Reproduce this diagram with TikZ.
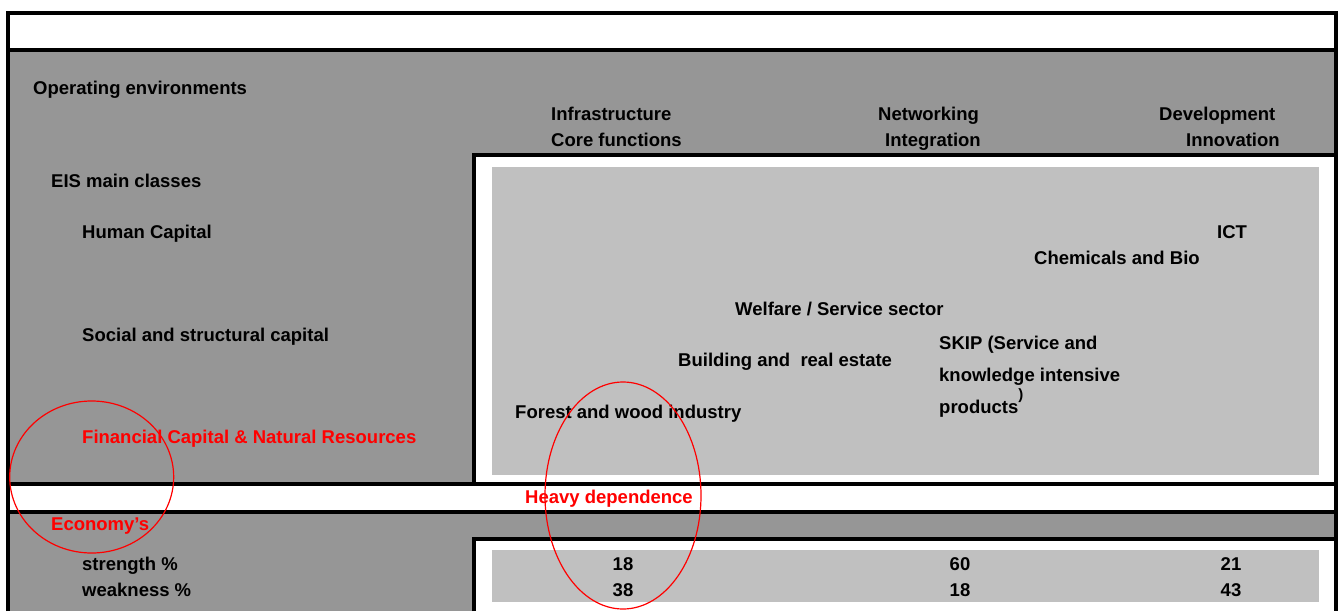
\documentclass[tikz,border=0pt]{standalone}
\usepackage{fontspec}
\setmainfont{Liberation Sans}
\definecolor{dg}{RGB}{150,150,150}
\definecolor{lg}{RGB}{192,192,192}
\begin{document}
\begin{tikzpicture}[x=1pt,y=-1pt,
  frame/.style={line width=4pt,black},
  lbl/.style={anchor=base west,inner sep=0pt,font=\fontsize{18.5}{22}\selectfont\bfseries},
  redlbl/.style={lbl,text=red},
  num/.style={anchor=base,inner sep=0pt,font=\fontsize{18.5}{22}\selectfont\bfseries},
  ring/.style={draw=red,line width=1.2pt}]
\useasboundingbox (0,0) rectangle (1339,611);
\fill[white] (0,0) rectangle (1339,611);
% grey panels
\fill[dg] (8,50) rectangle (1336,484);
\fill[dg] (8,511.5) rectangle (1336,611);
\fill[white] (474,155) rectangle (1336,484);
\fill[white] (474,539) rectangle (1336,611);
\fill[lg] (492,167) rectangle (1319,475);
\fill[lg] (492,550) rectangle (1319,602);
% frame lines
\draw[frame,line join=miter] (8,611) -- (8,13) -- (1336,13) -- (1336,611);
\draw[frame] (8,50) -- (1336,50);
\draw[frame] (8,484) -- (1336,484);
\draw[frame] (8,511.5) -- (1336,511.5);
\draw[frame,line join=miter] (474,484) -- (474,155) -- (1336,155);
\draw[frame,line join=miter] (474,611) -- (474,539) -- (1336,539);
% header texts
\node[lbl] (oe) at (33,94.5) {Operating environments};
\node[lbl] (inf) at (551,120.5) {Infrastructure};
\node[lbl] (core) at (551,146.5) {Core functions};
\node[lbl] (net) at (878,120.5) {Networking};
\node[lbl] (integ) at (885,146.5) {Integration};
\node[lbl] (dev) at (1159,120.5) {Development};
\node[lbl] (innov) at (1186,146.5) {Innovation};
% left column
\node[lbl] (eis) at (51,187.5) {EIS main classes};
\node[lbl] (hc) at (82,238.5) {Human Capital};
\node[lbl] (social) at (82,341.5) {Social and structural capital};
\node[redlbl] (fin) at (82,443.5) {Financial Capital \& Natural Resources};
% sectors
\node[lbl] (ict) at (1217,238.5) {ICT};
\node[lbl] (chem) at (1034,264.5) {Chemicals and Bio};
\node[lbl] (welf) at (735,315.5) {Welfare / Service sector};
\node[lbl] (skip1) at (939,349.5) {SKIP (Service and};
\node[lbl] (build) at (678,366.5) {Building and\ \ real estate};
\node[lbl] (skip2) at (939,381.5) {knowledge intensive};
\node[lbl] (prod) at (939,413.5) {products\raisebox{14.5pt}{\fontsize{15}{17}\selectfont)}};
\node[lbl] (forest) at (515,418.5) {Forest and wood industry};
% lower part
\node[redlbl] (heavy) at (525,503.5) {Heavy dependence};
\node[redlbl] (econ) at (51,530.5) {Economy’s};
\node[lbl] (str) at (82,570.5) {strength \%};
\node[lbl] (weak) at (82,596.5) {weakness \%};
\node[num] (s1) at (623,570.5) {18};
\node[num] (w1) at (623,596.5) {38};
\node[num] (s2) at (960,570.5) {60};
\node[num] (w2) at (960,596.5) {18};
\node[num] (s3) at (1231,570.5) {21};
\node[num] (w3) at (1231,596.5) {43};
% red rings
\draw[ring] (91.7,477) ellipse [x radius=82, y radius=76];
\draw[ring] (623,495.5) ellipse [x radius=78, y radius=113.5];
\end{tikzpicture}
\end{document}
